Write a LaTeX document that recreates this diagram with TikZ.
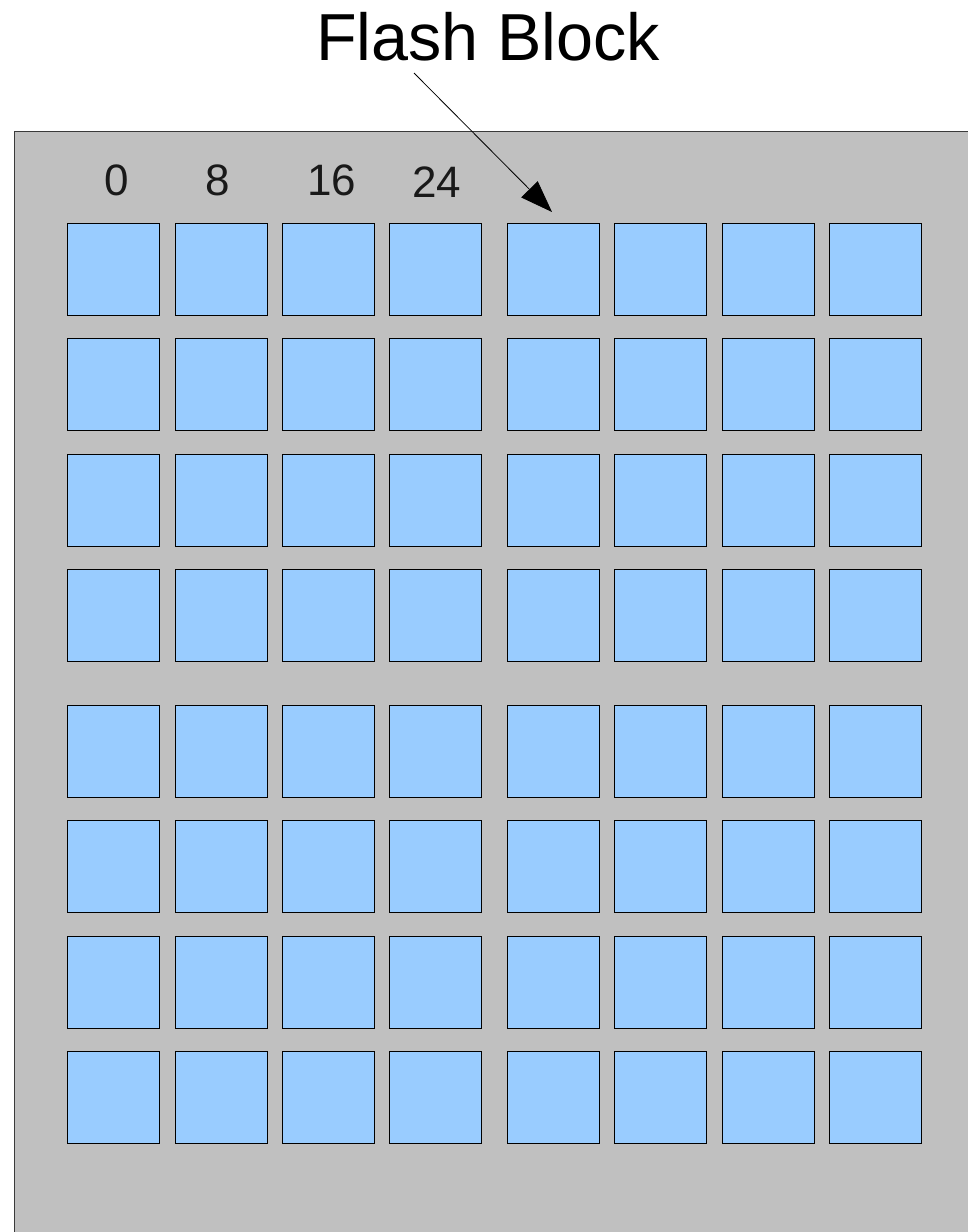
\documentclass[tikz,border=0pt]{standalone}
\usepackage{fontspec}
\setmainfont{Liberation Sans}
\usetikzlibrary{arrows.meta}
\definecolor{panelgray}{HTML}{C0C0C0}
\definecolor{blockblue}{HTML}{99CCFF}
\definecolor{edgegray}{HTML}{3A3A3A}
\tikzset{
  flashbox/.style={draw=black, fill=blockblue, line width=0.9pt, minimum width=92pt, minimum height=92pt, inner sep=0pt},
  collabel/.style={font=\fontsize{44pt}{50pt}\selectfont, text=black!90, inner sep=0pt},
  pointer/.style={line width=0.8pt, -{Triangle[length=32pt,width=23pt]}}
}
\begin{document}
\begin{tikzpicture}[x=1pt,y=-1pt]
\useasboundingbox (0,0) rectangle (968,1232);
\fill[white] (0,0) rectangle (968,1232);
\draw[fill=panelgray, draw=edgegray, line width=1pt] (14,1240) -- (14,131) -- (975,131);
\fill[panelgray] (14.5,131.5) rectangle (975,1240);
\node[font=\fontsize{66.5pt}{72pt}\selectfont, inner sep=0pt] (title) at (488,37) {Flash Block};
\node[collabel] (l0) at (117,180) {0};
\node[collabel] (l8) at (218,180) {8};
\node[collabel] (l16) at (332,180) {16};
\node[collabel] (l24) at (437,182) {24};
\foreach \cx [count=\i] in {113,221,328,435,553,660,768,875}{
  \foreach \cy [count=\j] in {269,384,500,615,751,866,982,1097}{
    \node[flashbox] (b\i-\j) at (\cx,\cy) {};
  }
}
\coordinate (astart) at (414,73);
\coordinate (aend) at (552,212);
\draw[pointer] (astart) -- (aend);
\end{tikzpicture}
\end{document}
